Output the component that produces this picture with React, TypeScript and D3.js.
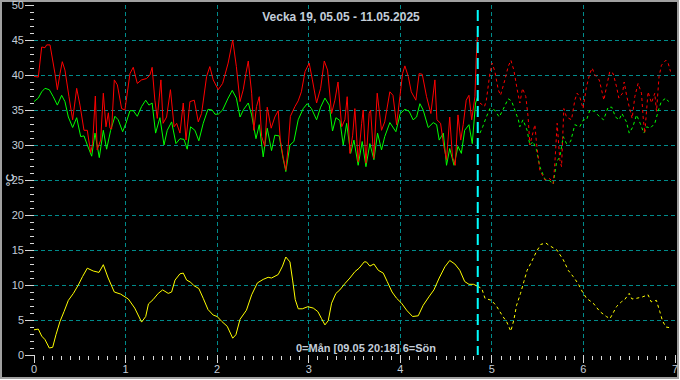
import React from "react";
import * as d3 from "d3";

type P = [number, number];

const titleText = "Vecka 19, 05.05 - 11.05.2025";
const footerText = "0=Mån [09.05 20:18] 6=Sön";
const unitLabel = "°C";
const nowDay = 4.846;
const yTickValues = [0, 5, 10, 15, 20, 25, 30, 35, 40, 45, 50];
const yGridValues = [5, 10, 15, 20, 25, 30, 35, 40, 45];
const xTickValues = [0, 1, 2, 3, 4, 5, 6, 7];
const xGridValues = [1, 2, 3, 4, 5, 6];

const redObserved: P[] = [
  [0, 39.8], [0.047, 39.7], [0.084, 44.0], [0.12, 43.9], [0.138, 44.3], [0.175, 44.3], [0.229, 40.2], [0.255, 37.9],
  [0.284, 40.2], [0.309, 41.9], [0.338, 40.7], [0.382, 36.9], [0.422, 33.6], [0.466, 38.1], [0.502, 35.7], [0.546, 32.1],
  [0.582, 32.1], [0.619, 28.9], [0.64, 30.2], [0.67, 37.0], [0.69, 29.3], [0.728, 30.7], [0.757, 37.4], [0.786, 32.6],
  [0.812, 34.6], [0.83, 32.4], [0.848, 32.3], [0.877, 39.3], [0.91, 38.6], [0.957, 35.2], [0.993, 35.0], [1.048, 40.2],
  [1.084, 41.1], [1.128, 38.8], [1.175, 39.3], [1.23, 39.5], [1.266, 40.0], [1.29, 41.1], [1.32, 36.4], [1.346, 33.8],
  [1.386, 39.3], [1.41, 33.1], [1.448, 34.0], [1.49, 37.9], [1.53, 32.6], [1.558, 33.1], [1.594, 31.7], [1.63, 36.0],
  [1.66, 30.7], [1.703, 36.2], [1.75, 36.4], [1.794, 33.3], [1.83, 34.5], [1.885, 39.8], [1.92, 41.2], [1.957, 39.3],
  [2.012, 37.9], [2.06, 38.8], [2.12, 41.7], [2.17, 45.0], [2.21, 41.2], [2.25, 36.2], [2.285, 37.9], [2.314, 40.2],
  [2.34, 42.0], [2.377, 37.4], [2.4, 32.1], [2.43, 35.5], [2.46, 36.9], [2.486, 31.2], [2.52, 29.8], [2.547, 35.4],
  [2.59, 32.4], [2.63, 34.0], [2.667, 34.9], [2.69, 30.7], [2.72, 28.3], [2.75, 26.4], [2.776, 29.8], [2.8, 34.1],
  [2.85, 35.5], [2.885, 36.3], [2.92, 37.6], [2.96, 40.5], [3.005, 41.7], [3.04, 39.3], [3.086, 36.0], [3.13, 38.1],
  [3.17, 42.0], [3.206, 40.7], [3.25, 34.5], [3.286, 36.4], [3.32, 39.0], [3.36, 32.6], [3.395, 33.6], [3.42, 36.9],
  [3.45, 28.8], [3.48, 31.4], [3.504, 35.2], [3.54, 27.6], [3.578, 33.1], [3.595, 35.0], [3.625, 27.4], [3.66, 34.5],
  [3.676, 35.0], [3.71, 28.1], [3.748, 37.4], [3.795, 32.1], [3.83, 33.3], [3.886, 37.6], [3.92, 37.1], [3.96, 32.9],
  [3.996, 36.9], [4.025, 40.2], [4.05, 41.3], [4.087, 39.8], [4.12, 37.6], [4.17, 36.4], [4.206, 40.2], [4.24, 40.1],
  [4.287, 36.9], [4.334, 34.5], [4.378, 39.3], [4.4, 33.6], [4.44, 33.1], [4.476, 29.8], [4.505, 27.9], [4.54, 34.0],
  [4.57, 28.3], [4.6, 27.1], [4.63, 34.3], [4.66, 30.7], [4.687, 32.9], [4.72, 36.4], [4.75, 37.1], [4.78, 33.6],
  [4.815, 36.9], [4.83, 42.6], [4.845, 46.4],
];

const redForecast: P[] = [
  [4.87, 36.0], [4.92, 35.5], [4.94, 36.4], [4.978, 40.2], [5.003, 41.7], [5.033, 40.5], [5.07, 37.9], [5.095, 37.1],
  [5.142, 39.3], [5.178, 41.2], [5.208, 42.1], [5.24, 40.7], [5.277, 37.9], [5.306, 36.0], [5.335, 38.1], [5.371, 36.9],
  [5.396, 34.0], [5.415, 30.0], [5.47, 32.9], [5.488, 30.2], [5.524, 26.4], [5.58, 25.0], [5.633, 25.2], [5.67, 24.5],
  [5.688, 27.4], [5.713, 33.1], [5.742, 27.9], [5.761, 26.9], [5.786, 35.2], [5.815, 34.0], [5.87, 33.6], [5.906, 36.4],
  [5.931, 37.4], [5.96, 36.9], [5.996, 35.2], [6.033, 38.3], [6.07, 40.2], [6.095, 41.0], [6.125, 40.0], [6.172, 39.3],
  [6.198, 37.9], [6.223, 36.4], [6.252, 38.3], [6.288, 40.5], [6.325, 40.2], [6.362, 38.3], [6.387, 36.7], [6.427, 37.4],
  [6.445, 39.0], [6.471, 37.1], [6.499, 35.5], [6.532, 33.8], [6.561, 36.9], [6.597, 38.8], [6.634, 37.4], [6.652, 34.0],
  [6.67, 31.7], [6.706, 37.6], [6.743, 36.0], [6.779, 37.4], [6.798, 34.8], [6.826, 39.8], [6.852, 41.4], [6.9, 42.1],
  [6.925, 41.7], [6.951, 40.5],
];

const greenObserved: P[] = [
  [0, 36.2], [0.047, 36.7], [0.084, 37.6], [0.12, 38.1], [0.167, 37.9], [0.21, 36.9], [0.255, 35.7], [0.302, 37.1],
  [0.338, 36.2], [0.375, 34.0], [0.422, 32.5], [0.466, 33.9], [0.51, 31.2], [0.546, 31.3], [0.582, 30.0], [0.63, 28.4],
  [0.666, 31.7], [0.713, 28.2], [0.757, 32.1], [0.793, 29.4], [0.837, 32.1], [0.884, 34.1], [0.92, 33.6], [0.968, 31.9],
  [1.004, 33.1], [1.048, 34.9], [1.084, 34.9], [1.128, 34.1], [1.175, 35.5], [1.22, 36.4], [1.255, 35.7], [1.29, 36.0],
  [1.328, 31.7], [1.375, 33.9], [1.42, 30.0], [1.455, 32.1], [1.503, 33.3], [1.55, 30.2], [1.594, 30.9], [1.638, 30.8],
  [1.673, 29.4], [1.71, 32.6], [1.757, 32.1], [1.8, 30.6], [1.848, 33.1], [1.9, 35.1], [1.946, 35.0], [1.976, 34.4],
  [2.012, 34.4], [2.06, 35.0], [2.12, 36.7], [2.165, 37.8], [2.21, 36.7], [2.25, 34.0], [2.29, 35.1], [2.34, 36.0],
  [2.377, 34.3], [2.4, 32.6], [2.424, 30.9], [2.46, 32.9], [2.503, 28.3], [2.547, 32.4], [2.594, 29.2], [2.63, 31.4],
  [2.678, 31.3], [2.72, 28.1], [2.75, 26.2], [2.795, 30.0], [2.838, 30.5], [2.885, 33.6], [2.94, 35.2], [2.984, 35.9],
  [3.03, 35.2], [3.086, 33.6], [3.13, 35.4], [3.177, 36.7], [3.224, 35.7], [3.26, 32.0], [3.297, 33.9], [3.34, 33.5],
  [3.377, 30.0], [3.414, 33.1], [3.458, 28.8], [3.494, 30.7], [3.54, 27.1], [3.584, 30.5], [3.625, 26.9], [3.668, 30.2],
  [3.712, 27.9], [3.752, 31.7], [3.795, 29.3], [3.83, 31.2], [3.886, 33.2], [3.952, 31.9], [4.0, 34.5], [4.05, 35.1],
  [4.097, 34.8], [4.14, 33.6], [4.178, 34.0], [4.214, 35.9], [4.25, 35.0], [4.305, 32.5], [4.36, 33.2], [4.397, 32.9],
  [4.425, 30.7], [4.47, 31.7], [4.505, 27.1], [4.54, 29.5], [4.587, 27.1], [4.63, 29.8], [4.667, 28.8], [4.703, 32.1],
  [4.75, 32.9], [4.786, 30.2], [4.822, 36.0], [4.845, 36.9],
];

const greenForecast: P[] = [
  [4.87, 31.7], [4.9, 32.6], [4.94, 34.0], [4.978, 35.2], [5.03, 35.0], [5.08, 34.0], [5.12, 35.0], [5.178, 36.6],
  [5.215, 36.3], [5.25, 35.0], [5.29, 33.6], [5.305, 32.6], [5.34, 33.6], [5.385, 32.1], [5.415, 30.0], [5.45, 30.5],
  [5.488, 29.3], [5.524, 26.9], [5.58, 25.1], [5.633, 24.9], [5.67, 24.4], [5.707, 27.6], [5.742, 28.3], [5.78, 31.2],
  [5.815, 30.2], [5.86, 30.5], [5.906, 32.9], [5.96, 32.6], [6.0, 33.6], [6.035, 33.6], [6.07, 35.0], [6.12, 34.8],
  [6.18, 34.0], [6.22, 33.6], [6.27, 35.4], [6.31, 35.4], [6.35, 34.0], [6.39, 33.6], [6.42, 34.5], [6.47, 33.3],
  [6.5, 31.7], [6.54, 32.6], [6.58, 34.3], [6.62, 33.1], [6.66, 31.7], [6.69, 32.6], [6.73, 32.4], [6.78, 33.1],
  [6.82, 35.0], [6.85, 36.2], [6.9, 36.7], [6.93, 36.2],
];

const yellowObserved: P[] = [
  [0, 3.6], [0.047, 3.7], [0.084, 2.7], [0.12, 2.2], [0.167, 1.0], [0.204, 1.1], [0.24, 2.9], [0.284, 4.8],
  [0.328, 6.2], [0.375, 7.8], [0.43, 8.8], [0.484, 10.0], [0.53, 11.2], [0.582, 12.4], [0.647, 12.0], [0.71, 11.8],
  [0.757, 12.9], [0.81, 11.0], [0.877, 9.0], [0.946, 8.7], [1.03, 8.0], [1.1, 6.7], [1.175, 4.7], [1.22, 5.5],
  [1.25, 7.3], [1.3, 7.9], [1.357, 8.8], [1.405, 9.3], [1.466, 8.8], [1.503, 9.0], [1.54, 10.7], [1.594, 11.6],
  [1.63, 11.7], [1.667, 10.7], [1.71, 10.4], [1.747, 9.9], [1.8, 9.5], [1.848, 8.1], [1.9, 6.5], [1.957, 5.7],
  [2.0, 5.5], [2.05, 4.8], [2.11, 4.1], [2.17, 2.4], [2.205, 2.9], [2.25, 5.1], [2.32, 6.4], [2.377, 8.6],
  [2.44, 10.3], [2.503, 10.8], [2.557, 11.1], [2.594, 11.0], [2.667, 11.5], [2.714, 12.7], [2.75, 14.0], [2.795, 13.3],
  [2.824, 10.7], [2.853, 7.9], [2.886, 6.6], [2.93, 6.6], [2.99, 6.9], [3.05, 6.7], [3.1, 6.2], [3.14, 5.2],
  [3.177, 4.3], [3.213, 4.9], [3.25, 7.4], [3.297, 8.8], [3.34, 9.3], [3.395, 10.2], [3.45, 11.0], [3.504, 11.9],
  [3.55, 12.4], [3.606, 13.3], [3.63, 13.3], [3.668, 12.7], [3.712, 13.0], [3.76, 12.1], [3.814, 11.7], [3.857, 10.5],
  [3.91, 9.0], [3.96, 8.1], [4.014, 7.4], [4.069, 6.4], [4.134, 5.5], [4.196, 5.6], [4.25, 7.1], [4.312, 8.3],
  [4.367, 9.3], [4.425, 11.0], [4.487, 12.6], [4.54, 13.5], [4.596, 13.0], [4.65, 12.1], [4.703, 10.5], [4.75, 10.1],
  [4.8, 10.1], [4.846, 9.8],
];

const yellowForecast: P[] = [
  [4.846, 9.8], [4.89, 9.5], [4.925, 8.1], [4.997, 7.8], [5.05, 7.0], [5.12, 5.5], [5.16, 4.8], [5.207, 3.4],
  [5.24, 5.0], [5.27, 7.1], [5.313, 8.8], [5.35, 10.5], [5.385, 12.1], [5.433, 13.3], [5.488, 14.8], [5.535, 15.8],
  [5.59, 16.0], [5.62, 15.7], [5.71, 15.0], [5.78, 13.6], [5.834, 12.1], [5.888, 11.2], [5.942, 10.2], [5.99, 9.0],
  [6.034, 8.1], [6.107, 7.4], [6.18, 6.2], [6.25, 5.5], [6.29, 5.2], [6.32, 5.9], [6.36, 6.9], [6.415, 7.6],
  [6.45, 7.9], [6.5, 8.8], [6.53, 8.0], [6.58, 8.1], [6.645, 8.3], [6.706, 8.6], [6.74, 7.6], [6.797, 7.8],
  [6.834, 6.2], [6.863, 4.9], [6.9, 4.0], [6.943, 3.9],
];

const W = 680;
const H = 380;
const textColor = "#c3cdd9";
const gridColor = "#008b8b";
const fontFamily = "Arial, 'Liberation Sans', sans-serif";

export default function App() {
  const x = d3.scaleLinear().domain([0, 7]).range([34, 675]);
  const y = d3.scaleLinear().domain([0, 50]).range([355, 5]);
  const line = d3
    .line<P>()
    .x((d) => x(d[0]))
    .y((d) => y(d[1]));

  const yMinor = d3.range(0, 51, 1).filter((v) => v % 5 !== 0);
  const xMinor = d3.range(0, 70, 1).map((i) => i / 10).filter((_, i) => i % 10 !== 0);

  const series: { data: P[]; color: string; dash?: string }[] = [
    { data: yellowObserved, color: "#ffff00" },
    { data: yellowForecast, color: "#ffff00", dash: "3,3" },
    { data: greenObserved, color: "#00ff00" },
    { data: greenForecast, color: "#00ff00", dash: "3,3" },
    { data: redObserved, color: "#ff0000" },
    { data: redForecast, color: "#ff0000", dash: "3,3" },
  ];

  return (
    <div style={{ position: "fixed", left: 0, top: 0, width: W, height: H }}>
      <svg width={W} height={H} style={{ display: "block", fontFamily }}>
        <rect x={0} y={0} width={W} height={H} fill="#ffffff" />
        <rect x={1} y={1} width={W - 3} height={H - 3} fill="#000000" stroke="#a0a0a0" strokeWidth={2} />

        {yGridValues.map((v) => (
          <line key={"gy" + v} x1={x(0)} x2={x(7)} y1={y(v)} y2={y(v)} stroke={gridColor} strokeWidth={1} strokeDasharray="4,3" shapeRendering="crispEdges" />
        ))}
        {xGridValues.map((v) => (
          <line key={"gx" + v} x1={x(v)} x2={x(v)} y1={y(50)} y2={y(0)} stroke={gridColor} strokeWidth={1} strokeDasharray="4,3" shapeRendering="crispEdges" />
        ))}

        {yTickValues.map((v) => (
          <g key={"yt" + v}>
            <line x1={x(0) - 9} x2={x(0)} y1={y(v)} y2={y(v)} stroke="#d8d8d8" strokeWidth={1} shapeRendering="crispEdges" />
            <text x={x(0) - 10} y={y(v)} dy="0.35em" textAnchor="end" fontSize={11} fill={textColor}>
              {v}
            </text>
          </g>
        ))}
        {yMinor.map((v) => (
          <line key={"ym" + v} x1={x(0) - 4} x2={x(0)} y1={y(v)} y2={y(v)} stroke="#d8d8d8" strokeWidth={1} shapeRendering="crispEdges" />
        ))}

        {xTickValues.map((v) => (
          <g key={"xt" + v}>
            <line x1={x(v)} x2={x(v)} y1={y(0)} y2={y(0) + 8} stroke="#d8d8d8" strokeWidth={1} shapeRendering="crispEdges" />
            <text x={x(v)} y={369} dy="0.35em" textAnchor="middle" fontSize={11} fill={textColor}>
              {v}
            </text>
          </g>
        ))}
        {xMinor.map((v) => (
          <line key={"xm" + v} x1={x(v)} x2={x(v)} y1={y(0) + 1} y2={y(0) + 5} stroke="#d8d8d8" strokeWidth={1} shapeRendering="crispEdges" />
        ))}

        {series.map((s, i) => (
          <path key={"s" + i} d={line(s.data) || ""} fill="none" stroke={s.color} strokeWidth={1} strokeDasharray={s.dash} />
        ))}

        <line x1={x(nowDay)} x2={x(nowDay)} y1={10} y2={y(0)} stroke="#00ffff" strokeWidth={2} strokeDasharray="11,5" />

        <text x={341} y={17} dy="0.35em" textAnchor="middle" fontSize={12} fontWeight="bold" fill={textColor}>
          {titleText}
        </text>
        <text x={366} y={348} dy="0.35em" textAnchor="middle" fontSize={11} fontWeight="bold" fill={textColor}>
          {footerText}
        </text>
        <text transform="translate(10,180) rotate(-90)" textAnchor="middle" dy="0.35em" fontSize={11} fontWeight="bold" fill={textColor}>
          {unitLabel}
        </text>
      </svg>
    </div>
  );
}
